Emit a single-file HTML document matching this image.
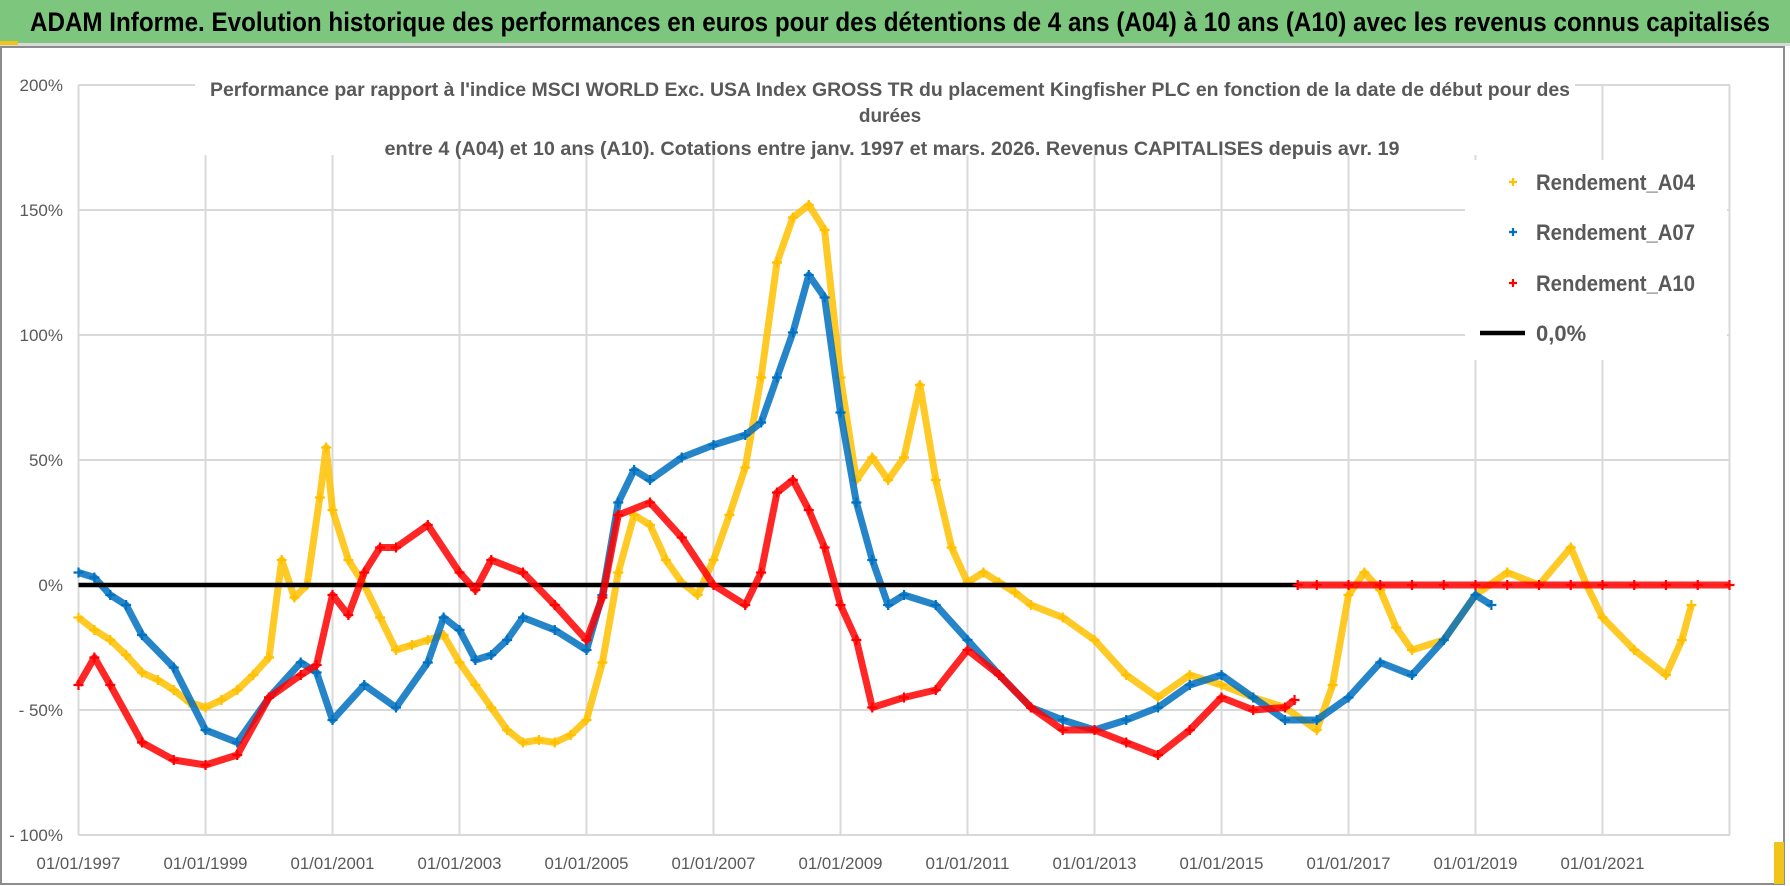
<!DOCTYPE html>
<html><head><meta charset="utf-8">
<style>
html,body{margin:0;padding:0;background:#fff;}
svg{display:block;font-family:"Liberation Sans",sans-serif;}
</style></head>
<body>
<svg id="chart" width="1790" height="886" viewBox="0 0 1790 886" xmlns="http://www.w3.org/2000/svg">
  <rect x="0" y="0" width="1790" height="886" fill="#fff"/>
  <rect x="0" y="0" width="1790" height="43" fill="#7dc67e"/>
  <rect x="0" y="43" width="1790" height="3" fill="#d9d9d9"/>
  <rect x="0" y="41" width="18" height="4" fill="#f0c419"/>
  <text x="30" y="31" font-size="27" font-weight="bold" fill="#000" textLength="1740" lengthAdjust="spacingAndGlyphs">ADAM Informe. Evolution historique des performances en euros pour des détentions de 4 ans (A04) à 10 ans (A10) avec les revenus connus capitalisés</text>
  <rect x="1" y="47" width="1783" height="837" fill="none" stroke="#8c8c8c" stroke-width="2"/>
  <rect x="1774" y="842" width="10" height="42" fill="#f0c419"/>
  <g id="grid"></g>
  <g id="series"></g>
  <g id="axes"></g>
  <rect x="195" y="70" width="1380" height="85" fill="#fff"/>
  <g fill="#595959" font-weight="bold" font-size="19" text-anchor="middle">
    <text x="890" y="96" textLength="1360" lengthAdjust="spacingAndGlyphs">Performance par rapport à l'indice MSCI WORLD Exc. USA Index GROSS TR  du placement Kingfisher PLC en fonction de la date de début pour des</text>
    <text x="890" y="122">durées</text>
    <text x="892" y="155" textLength="1015" lengthAdjust="spacingAndGlyphs">entre 4 (A04) et 10 ans (A10). Cotations entre janv. 1997 et mars. 2026. Revenus CAPITALISES depuis avr. 19</text>
  </g>
  <g id="legend">
    <rect x="1465" y="160" width="262" height="200" fill="#fff"/>
  </g>
</svg>
<script>
const ns="http://www.w3.org/2000/svg";
// ---- data ----
const a04Years=[1997.0,1997.25,1997.5,1997.75,1998.0,1998.25,1998.5,1998.75,1999.0,1999.25,1999.5,1999.75,2000.0,2000.2,2000.4,2000.6,2000.8,2000.9,2001.0,2001.25,2001.5,2001.75,2002.0,2002.25,2002.5,2002.75,2003.0,2003.25,2003.5,2003.75,2004.0,2004.25,2004.5,2004.75,2005.0,2005.25,2005.5,2005.75,2006.0,2006.25,2006.5,2006.75,2007.0,2007.25,2007.5,2007.75,2008.0,2008.25,2008.5,2008.75,2009.0,2009.25,2009.5,2009.75,2010.0,2010.25,2010.5,2010.75,2011.0,2011.25,2011.5,2011.75,2012.0,2012.5,2013.0,2013.5,2014.0,2014.5,2015.0,2015.5,2016.0,2016.5,2016.75,2017.0,2017.25,2017.5,2017.75,2018.0,2018.5,2019.0,2019.5,2020.0,2020.5,2020.75,2021.0,2021.5,2022.0,2022.25,2022.4];
const a04Values=[-13,-18,-22,-28,-35,-38,-42,-47,-49,-46,-42,-36,-29,10,-5,0,35,55,30,10,0,-13,-26,-24,-22,-20,-31,-40,-49,-58,-63,-62,-63,-60,-54,-31,5,28,24,10,1,-4,10,28,47,83,129,147,152,142,83,42,51,42,51,80,42,15,1,5,1,-3,-8,-13,-22,-36,-45,-36,-40,-45,-49,-58,-40,-4,5,-2,-17,-26,-22,-4,5,0,15,0,-13,-26,-36,-22,-8];
const a07Years=[1997.0,1997.25,1997.5,1997.75,1998.0,1998.5,1999.0,1999.5,2000.0,2000.5,2000.75,2001.0,2001.5,2002.0,2002.5,2002.75,2003.0,2003.25,2003.5,2003.75,2004.0,2004.5,2005.0,2005.25,2005.5,2005.75,2006.0,2006.5,2007.0,2007.5,2007.75,2008.0,2008.25,2008.5,2008.75,2009.0,2009.25,2009.5,2009.75,2010.0,2010.5,2011.0,2011.5,2012.0,2012.5,2013.0,2013.5,2014.0,2014.5,2015.0,2015.5,2016.0,2016.5,2017.0,2017.5,2018.0,2018.5,2019.0,2019.25];
const a07Values=[5,3,-4,-8,-20,-33,-58,-63,-45,-31,-35,-54,-40,-49,-31,-13,-18,-30,-28,-22,-13,-18,-26,-4,33,46,42,51,56,60,65,83,101,124,115,69,33,10,-8,-4,-8,-22,-36,-49,-54,-58,-54,-49,-40,-36,-45,-54,-54,-45,-31,-36,-22,-4,-8];
const a10Years=[1997.0,1997.25,1997.5,1998.0,1998.5,1999.0,1999.5,2000.0,2000.5,2000.75,2001.0,2001.25,2001.5,2001.75,2002.0,2002.5,2003.0,2003.25,2003.5,2004.0,2004.5,2005.0,2005.25,2005.5,2006.0,2006.5,2007.0,2007.5,2007.75,2008.0,2008.25,2008.5,2008.75,2009.0,2009.25,2009.5,2010.0,2010.5,2011.0,2011.5,2012.0,2012.5,2013.0,2013.5,2014.0,2014.5,2015.0,2015.5,2016.0,2016.15];
const a10Values=[-40,-29,-40,-63,-70,-72,-68,-45,-36,-32,-4,-12,5,15,15,24,5,-2,10,5,-8,-22,-5,28,33,19,0,-8,5,37,42,30,15,-8,-22,-49,-45,-42,-26,-36,-49,-58,-58,-63,-68,-58,-45,-50,-49,-46];
const a10FlatYears=[2016.2,2016.5,2017.0,2017.5,2018.0,2018.5,2019.0,2019.5,2020.0,2020.5,2021.0,2021.5,2022.0,2022.5,2023.0];
const a10FlatValues=[0,0,0,0,0,0,0,0,0,0,0,0,0,0,0];
const zeroYears=[1997.0,2016.2];
const zeroValues=[0,0];
const yTicks=[200,150,100,50,0,-50,-100];
const yTickLabels=["200%","150%","100%","50%","0%","- 50%","- 100%"];
const xTicks=[1997,1999,2001,2003,2005,2007,2009,2011,2013,2015,2017,2019,2021];
const xTickLabels=["01/01/1997","01/01/1999","01/01/2001","01/01/2003","01/01/2005","01/01/2007","01/01/2009","01/01/2011","01/01/2013","01/01/2015","01/01/2017","01/01/2019","01/01/2021"];
const seriesNames=["Rendement_A04","Rendement_A07","Rendement_A10","0,0%"];

// ---- axes ----
const X0=78.5, PX_PER_YEAR=63.5, Y0=585, PX_PER_PCT=2.5, PLOT_RIGHT=1730, PLOT_TOP=85, PLOT_BOTTOM=835;
function xs(yr){return X0+(yr-1997)*PX_PER_YEAR;}
function ys(v){return Y0-v*PX_PER_PCT;}
function mk(tag,attrs,parent){const e=document.createElementNS(ns,tag);for(const k in attrs)e.setAttribute(k,attrs[k]);parent.appendChild(e);return e;}

const grid=document.getElementById('grid');
yTicks.forEach((v,i)=>{
  const l=mk('line',{x1:X0,x2:PLOT_RIGHT,y1:ys(v),y2:ys(v),stroke:'#d9d9d9','stroke-width':2},grid);
  
  
});
xTicks.concat([2023]).forEach(t=>{
  const l=mk('line',{x1:xs(t),x2:xs(t),y1:PLOT_TOP,y2:PLOT_BOTTOM,stroke:'#d9d9d9','stroke-width':2},grid);
  
  
});
const axes=document.getElementById('axes');
yTicks.forEach((v,i)=>{
  const t=mk('text',{x:63,y:ys(v)+6,'text-anchor':'end','font-size':17,fill:'#595959'},axes);
  t.textContent=yTickLabels[i];
  
  
});
xTicks.forEach((v,i)=>{
  const t=mk('text',{x:xs(v),y:869,'text-anchor':'middle','font-size':17,fill:'#595959',textLength:84,lengthAdjust:'spacingAndGlyphs'},axes);
  t.textContent=xTickLabels[i];
  
  
});

const series=document.getElementById('series');
function plus(g,x,y,col,s){mk('path',{d:`M${x-s} ${y}H${x+s}M${x} ${y-s}V${y+s}`,stroke:col,'stroke-width':2.2,fill:'none'},g);}
function drawSeries(name,years,vals,col){
  const g=mk('g',{},series);
  
  
  const pts=years.map((y,i)=>xs(y).toFixed(1)+','+ys(vals[i]).toFixed(1)).join(' ');
  mk('polyline',{points:pts,fill:'none',stroke:col,'stroke-width':7,'stroke-linejoin':'round','stroke-opacity':0.85},g);
  years.forEach((y,i)=>plus(g,xs(y),ys(vals[i]),col,5));
}
drawSeries('series-a04',a04Years,a04Values,'#ffc000');
drawSeries('series-a07',a07Years,a07Values,'#0070c0');
const zg=mk('line',{x1:xs(zeroYears[0]),x2:xs(zeroYears[1]),y1:ys(zeroValues[0]),y2:ys(zeroValues[1]),stroke:'#000','stroke-width':4.5},series);


drawSeries('series-a10',a10Years,a10Values,'#ff0000');
drawSeries('series-a10-flat',a10FlatYears,a10FlatValues,'#ff0000');

// legend
const lg=document.getElementById('legend');
const lcols=['#ffc000','#0070c0','#ff0000','#000'];
const lys=[182,232,283,333];
seriesNames.forEach((n,i)=>{
  const g=mk('g',{},lg);
  
  
  if(i<3){plus(g,1513,lys[i],lcols[i],4);}
  else{mk('line',{x1:1480,x2:1525,y1:lys[i],y2:lys[i],stroke:'#000','stroke-width':4.5},g);}
  const t=mk('text',{x:1536,y:lys[i]+8,'font-size':22,'font-weight':'bold',fill:'#595959'},g);
  if(i<3){t.setAttribute('textLength',159);t.setAttribute('lengthAdjust','spacingAndGlyphs');}
  t.textContent=n;
});
</script>
</body></html>
